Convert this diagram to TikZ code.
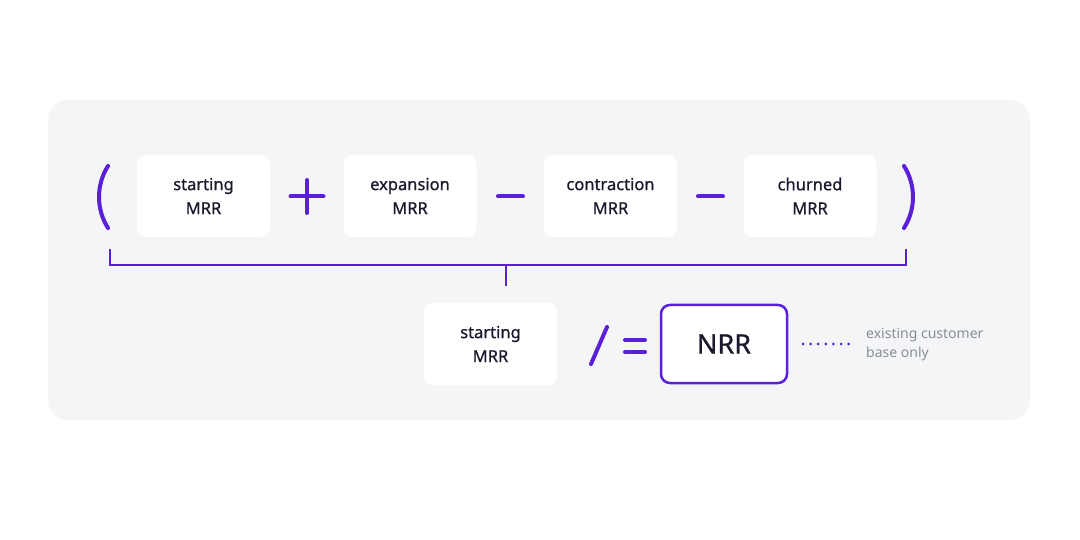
\documentclass[tikz,border=0pt]{standalone}
\usepackage{fontspec}
\setmainfont{Noto Sans}
\newfontfamily\med[FakeBold=0.8]{Noto Sans}
\definecolor{pur}{HTML}{5A1FD6}
\definecolor{panel}{HTML}{F4F5F7}
\definecolor{txt}{HTML}{1A1A2E}
\definecolor{grey}{HTML}{8A8C99}
\begin{document}
\begin{tikzpicture}[x=1pt,y=-1pt,
 box/.style={fill=white,rounded corners=9pt,minimum width=133pt,minimum height=82pt,align=center,font=\med\fontsize{16.5}{24}\selectfont,text=txt,inner sep=0pt},
 sym/.style={draw=pur,line width=4pt,line cap=round}]
\useasboundingbox (0,0) rectangle (1080,540);
\fill[white] (0,0) rectangle (1080,540);
\fill[panel,rounded corners=20pt] (48,100) rectangle (1030,420);
\node[box] (b1) at (203.5,196) {starting\\MRR};
\node[box] (b2) at (410,196) {expansion\\MRR};
\node[box] (b3) at (610.5,196) {contraction\\MRR};
\node[box] (b4) at (810,196) {churned\\MRR};
\node[box] (b5) at (490.5,344) {starting\\MRR};
\node[box,draw=pur,line width=2.5pt,minimum width=126pt,minimum height=78pt,font=\med\fontsize{27}{30}\selectfont] (nrr) at (724,344) {NRR};
\draw[sym] (108,166) .. controls (96,185) and (96,209) .. (108,228);
\draw[sym] (904,166) .. controls (916,185) and (916,209) .. (904,228);
\draw[sym] (307,180) -- (307,213) (290.5,196.5) -- (323.5,196.5);
\draw[sym] (498,196.5) -- (523,196.5);
\draw[sym] (698,196.5) -- (723,196.5);
\draw[pur,line width=2.5pt] (110,249) -- (110,265) -- (906,265) -- (906,249);
\draw[pur,line width=2.5pt] (506,265) -- (506,286);
\draw[sym] (591,364) -- (607,327);
\draw[sym] (625,340) -- (645,340) (625,352) -- (645,352);
\coordinate (d1) at (803,344);
\coordinate (d2) at (849,344);
\draw[pur,line width=3pt,line cap=round,dash pattern=on 0pt off 7.6pt] (d1) -- (d2);
\node[anchor=west,align=left,text=grey,font=\fontsize{14}{19}\selectfont,inner sep=0pt] (t) at (866,345) {existing customer\\base only};
\end{tikzpicture}
\end{document}
